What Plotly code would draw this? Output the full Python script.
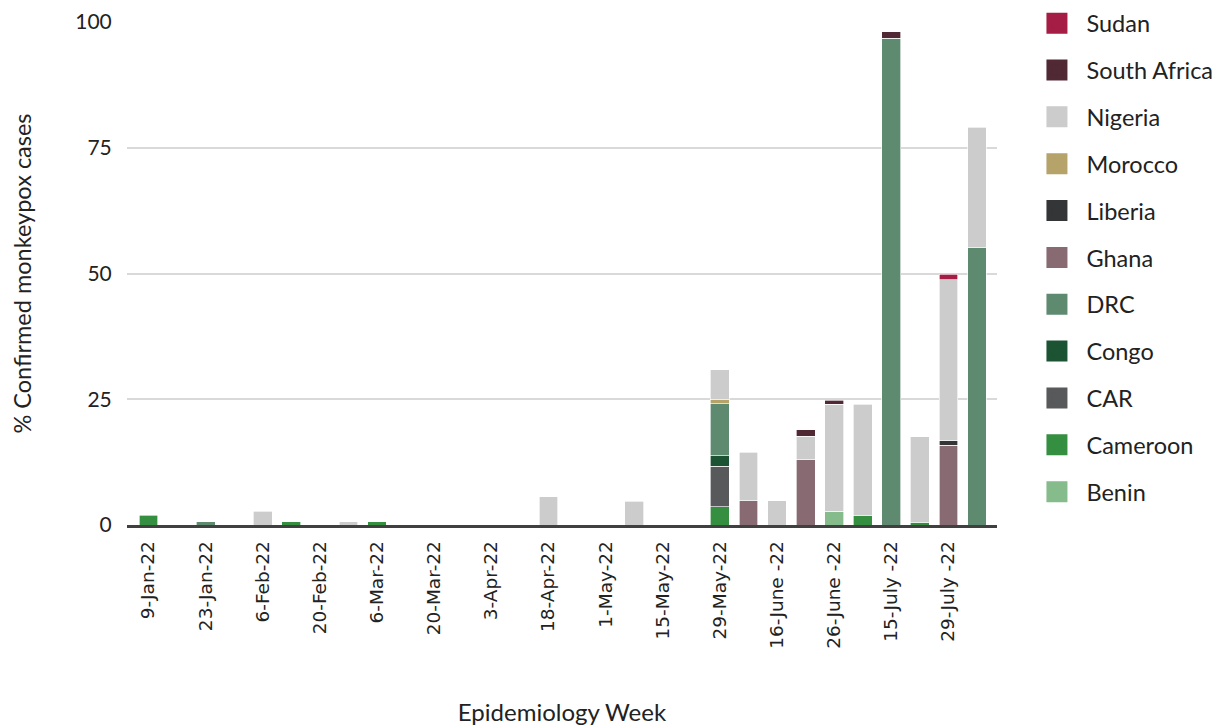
import plotly.graph_objects as go

weeks = ["9-Jan-22", "16-Jan-22", "23-Jan-22", "30-Jan-22", "6-Feb-22", "13-Feb-22",
         "20-Feb-22", "27-Feb-22", "6-Mar-22", "13-Mar-22", "20-Mar-22", "27-Mar-22",
         "3-Apr-22", "10-Apr-22", "18-Apr-22", "24-Apr-22", "1-May-22", "8-May-22",
         "15-May-22", "22-May-22", "29-May-22", "5-June-22", "16-June -22", "19-June-22",
         "26-June -22", "3-July-22", "15-July -22", "22-July-22", "29-July -22", "5-Aug-22"]
tick_labels = weeks[::2]

#            0    1    2    3    4    5    6    7    8    9   10   11   12   13   14   15   16   17   18   19   20    21   22   23    24    25    26    27    28    29
benin     = [0,   0,   0,   0,   0,   0,   0,   0,   0,   0,   0,   0,   0,   0,   0,   0,   0,   0,   0,   0,   0,    0,   0,   0,    2.7,  0,    0,    0,    0,    0]
cameroon  = [1.9, 0,   0,   0,   0,   0.6, 0,   0,   0.6, 0,   0,   0,   0,   0,   0,   0,   0,   0,   0,   0,   3.6,  0,   0,   0,    0,    1.9,  0,    0.5,  0,    0]
car       = [0,   0,   0,   0,   0,   0,   0,   0,   0,   0,   0,   0,   0,   0,   0,   0,   0,   0,   0,   0,   8.1,  0,   0,   0,    0,    0,    0,    0,    0,    0]
congo     = [0,   0,   0,   0,   0,   0,   0,   0,   0,   0,   0,   0,   0,   0,   0,   0,   0,   0,   0,   0,   2.1,  0,   0,   0,    0,    0,    0,    0,    0,    0]
drc       = [0,   0,   0.6, 0,   0,   0,   0,   0,   0,   0,   0,   0,   0,   0,   0,   0,   0,   0,   0,   0,   10.3, 0,   0,   0,    0,    0,    96.8, 0,    0,    55.1]
ghana     = [0,   0,   0,   0,   0,   0,   0,   0,   0,   0,   0,   0,   0,   0,   0,   0,   0,   0,   0,   0,   0,    4.8, 0,   13.0, 0,    0,    0,    0,    15.9, 0]
liberia   = [0,   0,   0,   0,   0,   0,   0,   0,   0,   0,   0,   0,   0,   0,   0,   0,   0,   0,   0,   0,   0,    0,   0,   0,    0,    0,    0,    0,    0.9,  0]
morocco   = [0,   0,   0,   0,   0,   0,   0,   0,   0,   0,   0,   0,   0,   0,   0,   0,   0,   0,   0,   0,   0.8,  0,   0,   0,    0,    0,    0,    0,    0,    0]
nigeria   = [0,   0,   0,   0,   2.7, 0,   0,   0.6, 0,   0,   0,   0,   0,   0,   5.6, 0,   0,   4.7, 0,   0,   6.0,  9.7, 4.8, 4.6,  21.3, 22.1, 0,    17.0, 32.0, 24.0]
s_africa  = [0,   0,   0,   0,   0,   0,   0,   0,   0,   0,   0,   0,   0,   0,   0,   0,   0,   0,   0,   0,   0,    0,   0,   1.3,  0.8,  0,    1.3,  0,    0,    0]
sudan     = [0,   0,   0,   0,   0,   0,   0,   0,   0,   0,   0,   0,   0,   0,   0,   0,   0,   0,   0,   0,   0,    0,   0,   0,    0,    0,    0,    0,    1.1,  0]

countries = ["Benin", "Cameroon", "CAR", "Congo", "DRC", "Ghana", "Liberia",
             "Morocco", "Nigeria", "South Africa", "Sudan"]
series = [benin, cameroon, car, congo, drc, ghana, liberia, morocco, nigeria, s_africa, sudan]
colors = ["#86BB8C", "#348F41", "#58595B", "#1C5333", "#5E8A70", "#876A72",
          "#333537", "#B5A36A", "#CCCCCC", "#512935", "#A51C44"]

TXT = "Lato"
fig = go.Figure()
for name, vals, col in zip(countries, series, colors):
    fig.add_trace(go.Bar(
        x=weeks, y=[v if v else None for v in vals], name=name,
        marker=dict(color=col, line=dict(color="rgba(255,255,255,0.8)", width=0.8)),
        showlegend=False,
    ))
# legend entries (top to bottom: Sudan ... Benin)
for name, col in reversed(list(zip(countries, colors))):
    fig.add_trace(go.Scatter(
        x=[None], y=[None], mode="markers", name=name, legendgroup=name,
        marker=dict(symbol="square", size=16, color=col, line=dict(color=col, width=8)),
    ))

fig.update_layout(
    width=1223, height=725,
    barmode="stack", bargap=0.34,
    plot_bgcolor="white", paper_bgcolor="white",
    margin=dict(l=119, r=234, t=14, b=208, autoexpand=False),
    font=dict(family=TXT, size=20, color="#222222"),
    legend=dict(
        traceorder="grouped", x=1.035, xanchor="left", y=1.041, yanchor="top",
        font=dict(family=TXT, size=23.5, color="#222222"),
        tracegroupgap=13.3, itemwidth=49, maxheight=1.0,
        bgcolor="rgba(0,0,0,0)",
    ),
    xaxis=dict(
        type="category", categoryorder="array", categoryarray=weeks,
        range=[-0.75, 29.7],
        tickmode="array", tickvals=tick_labels, ticktext=tick_labels,
        tickangle=-90, tickfont=dict(family="DejaVu Sans", size=18.5, color="#222222"),
        ticks="outside", ticklen=6, tickcolor="rgba(0,0,0,0)",
        showline=True, linecolor="#404040", linewidth=2.5,
        showgrid=False,
        title=dict(text="Epidemiology Week", font=dict(family=TXT, size=24), standoff=57),
    ),
    yaxis=dict(
        range=[0, 100], tickvals=[0, 25, 50, 75, 100],
        showgrid=True, gridcolor="#D9D9D9", gridwidth=1.5,
        zeroline=False, showline=False,
        tickfont=dict(family=TXT, size=21, color="#222222"),
        ticks="outside", ticklen=10, tickcolor="rgba(0,0,0,0)",
        title=dict(text="% Confirmed monkeypox cases", font=dict(family=TXT, size=23.5), standoff=37),
    ),
)

fig.write_html("out.html")
